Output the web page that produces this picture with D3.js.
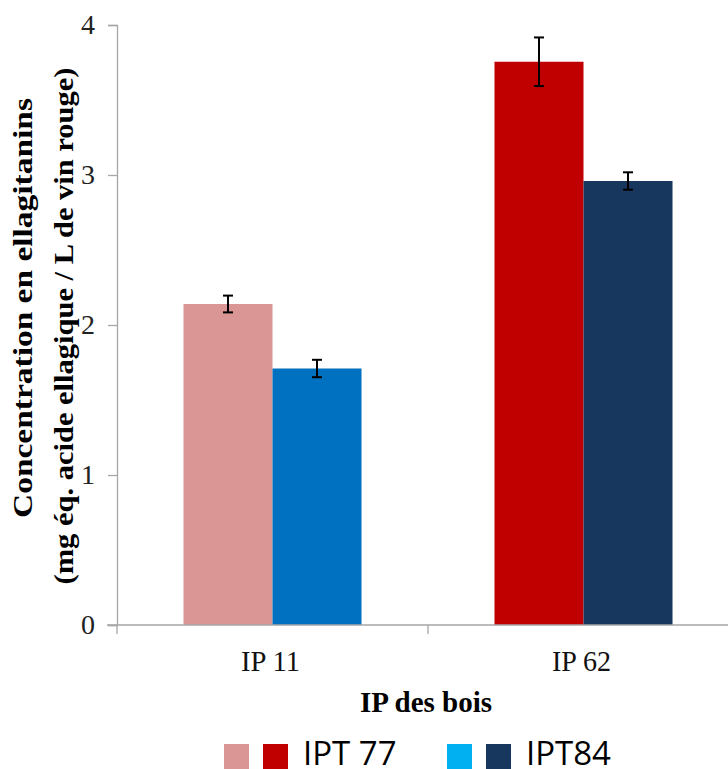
<!DOCTYPE html>
<html><head><meta charset="utf-8">
<script src="https://cdn.jsdelivr.net/npm/d3@7"></script>
<style>body{margin:0;background:#fff}</style>
</head><body><svg id="c" width="728" height="769"></svg>
<script>
const categories = ["IP 11", "IP 62"];
const values = [2.14, 1.71, 3.755, 2.96];
const errors = [0.056, 0.058, 0.162, 0.058];
const barCat = ["IP 11", "IP 11", "IP 62", "IP 62"];
const barSlot = [0, 1, 0, 1];
const barColors = ["#D99694", "#0070C0", "#C00000", "#17375E"];
const yTicks = [0, 1, 2, 3, 4];
const legendItems = [{label: "IPT 77", colors: ["#D99694", "#C00000"]}, {label: "IPT84", colors: ["#00B0F0", "#17375E"]}];

const svg = d3.select("#c");
const x0 = 117, x1 = 739, yTop = 25, yBot = 625;
const x = d3.scaleBand().domain(categories).range([x0, x1]).paddingInner(0).paddingOuter(0);
const y = d3.scaleLinear().domain([0, 4]).range([yBot, yTop]);
const inner = d3.scaleBand().domain([0, 1]).range([0, x.bandwidth()]).paddingInner(0).paddingOuter(0.747);

const axisCol = "#a6a6a6";
// y axis
const ya = svg.append("g").attr("transform", `translate(${x0},0)`)
  .call(d3.axisLeft(y).tickValues(yTicks).tickSize(9).tickPadding(13).tickFormat(d3.format("d")));
ya.select(".domain").attr("stroke", axisCol).attr("stroke-width", 1.3);
ya.selectAll(".tick line").attr("stroke", axisCol).attr("stroke-width", 1.3);
ya.selectAll(".tick text").attr("font-family", "Liberation Serif").attr("font-size", 28).attr("fill", "#222");

// bars
svg.append("g").selectAll("rect").data(values).join("rect")
  .attr("x", (d, i) => x(barCat[i]) + inner(barSlot[i]))
  .attr("width", inner.bandwidth())
  .attr("y", d => y(d))
  .attr("height", d => y(0) - y(d))
  .attr("fill", (d, i) => barColors[i]);

// x axis
const xa = svg.append("g").attr("transform", `translate(0,${yBot})`);
xa.append("line").attr("x1", 107).attr("x2", 728).attr("stroke", axisCol).attr("stroke-width", 1.3);
const bounds = [x0, x0 + x.bandwidth(), x1];
xa.selectAll("line.t").data(bounds).join("line").attr("class", "t")
  .attr("x1", d => d).attr("x2", d => d).attr("y1", 0).attr("y2", 9)
  .attr("stroke", axisCol).attr("stroke-width", 1.3);
xa.selectAll("text").data(categories).join("text")
  .attr("x", d => x(d) + x.bandwidth() / 2 - 2).attr("y", 46)
  .attr("text-anchor", "middle").attr("font-family", "Liberation Serif")
  .attr("font-size", 29).attr("textLength", 59).attr("lengthAdjust", "spacingAndGlyphs")
  .attr("fill", "#111").text(d => d);

// error bars
const eb = svg.append("g").attr("stroke", "#000").attr("stroke-width", 2);
values.forEach((v, i) => {
  const cx = x(barCat[i]) + inner(barSlot[i]) + inner.bandwidth() / 2;
  eb.append("line").attr("x1", cx).attr("x2", cx).attr("y1", y(v + errors[i])).attr("y2", y(v - errors[i]));
  [v + errors[i], v - errors[i]].forEach(e => eb.append("line").attr("x1", cx - 5).attr("x2", cx + 5).attr("y1", y(e)).attr("y2", y(e)));
});

// axis titles
svg.append("text").attr("x", 426).attr("y", 712).attr("text-anchor", "middle")
  .attr("font-family", "Liberation Serif").attr("font-weight", "bold").attr("font-size", 29).text("IP des bois");
svg.append("text").attr("transform", "translate(32,308) rotate(-90)")
  .attr("text-anchor", "middle").attr("font-family", "Liberation Serif").attr("font-weight", "bold").attr("font-size", 28)
  .attr("textLength", 420).attr("lengthAdjust", "spacingAndGlyphs")
  .text("Concentration en ellagitanins");
svg.append("text").attr("transform", "translate(73,326) rotate(-90)")
  .attr("text-anchor", "middle").attr("font-family", "Liberation Serif").attr("font-weight", "bold").attr("font-size", 28)
  .attr("textLength", 517).attr("lengthAdjust", "spacingAndGlyphs")
  .text("(mg éq. acide ellagique / L de vin rouge)");

// legend
const legX = [224, 447];
legendItems.forEach((it, k) => {
  const g = svg.append("g").attr("transform", `translate(${legX[k]},744)`);
  it.colors.forEach((c, j) => g.append("rect").attr("x", j * 39).attr("y", 0).attr("width", 25).attr("height", 25).attr("fill", c));
  g.append("text").attr("x", 79).attr("y", 21).attr("font-family", "Open Sans").attr("font-size", 33).attr("fill", "#000").text(it.label);
});
</script></body></html>
